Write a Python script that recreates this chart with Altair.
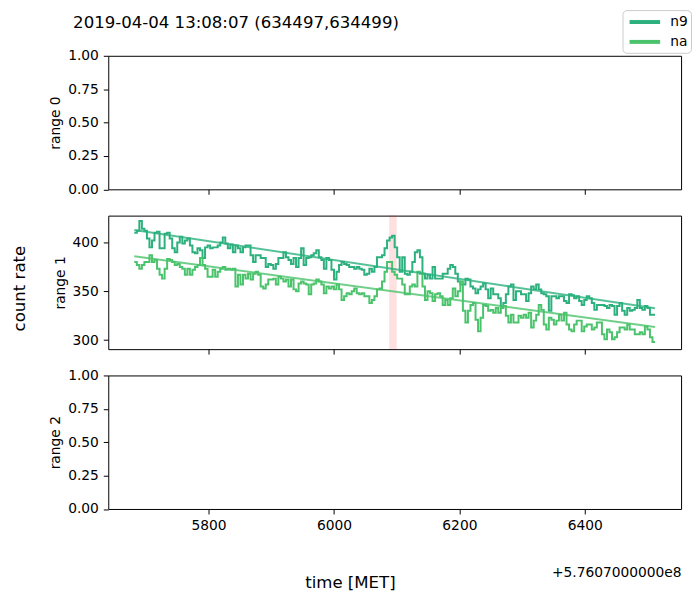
import altair as alt
import pandas as pd

TITLE = "2019-04-04 13:08:07 (634497,634499)"
OFFSET_TEXT = "+5.7607000000e8"
X_LABEL = "time [MET]"
Y_LABEL = "count rate"
PANEL_TITLES = ["range 0", "range 1", "range 2"]

T_START = 5681.5
T_END = 6512.0
X_DOMAIN = [5640.0, 6553.6]
X_TICKS = [5800, 6000, 6200, 6400]
Y_MID_DOMAIN = [290.8, 427.5]
Y_MID_TICKS = [300, 350, 400]
Y_EMPTY_DOMAIN = [0.0, 1.0]
Y_EMPTY_TICKS = [0.0, 0.25, 0.5, 0.75, 1.0]

DETECTORS = ["n9", "na"]
COLORS = ["#2cb17e", "#4bc36c"]

N9 = [410, 412, 422, 414, 412, 404, 395, 402, 410, 411, 394, 394, 409, 410, 404, 394, 390, 400, 406, 399,
      402, 404, 397, 390, 389, 394, 392, 384, 395, 397, 394, 395, 395, 397, 400, 405, 399, 394, 398, 390, 397,
      394, 390, 395, 397, 397, 387, 380, 387, 387, 384, 384, 375, 378, 377, 373, 378, 384, 384, 390, 385,
      382, 378, 384, 375, 384, 394, 377, 384, 385, 387, 389, 392, 385, 382, 373, 384, 382, 372, 362, 370, 377, 380,
      378, 377, 375, 375, 373, 375, 373, 372, 367, 368, 373, 370, 375, 385, 385, 387, 394, 402, 405, 407,
      395, 385, 370, 385, 368, 367, 370, 380, 390, 392, 385, 368, 363, 367, 363, 375, 363, 363, 363, 368, 368, 373, 377,
      375, 368, 360, 357, 357, 363, 362, 355, 353, 348, 352, 355, 358, 352, 343, 353, 347, 347, 343, 335,
      338, 347, 355, 357, 341, 350, 350, 347, 347, 340, 348, 355, 352, 357, 352, 348, 347, 345, 330, 345, 345, 343, 345,
      345, 340, 338, 347, 346, 343, 345, 340, 336, 341, 345, 343, 338, 331, 336, 336, 336, 335, 333, 336,
      335, 326, 335, 338, 330, 326, 333, 330, 331, 333, 341, 333, 331, 335, 333, 326, 326]

NA = [380, 377, 373, 377, 380, 380, 387, 380, 382, 373, 367, 363, 373, 383, 382, 380, 377, 378, 375, 373,
      367, 373, 367, 372, 375, 377, 384, 377, 373, 365, 365, 372, 365, 370, 373, 375, 372, 373, 372, 373, 355,
      367, 357, 367, 363, 368, 362, 368, 370, 367, 355, 353, 357, 362, 362, 363, 357, 365, 363, 360, 362,
      355, 362, 352, 350, 358, 360, 358, 357, 347, 357, 358, 362, 360, 357, 348, 355, 353, 355, 352, 357, 352, 341,
      345, 348, 347, 350, 353, 348, 347, 348, 345, 345, 338, 341, 345, 352, 353, 360, 370, 380, 380, 370,
      367, 363, 363, 357, 347, 347, 355, 357, 355, 370, 368, 355, 341, 350, 348, 340, 347, 348, 345, 336, 341, 336, 343,
      353, 345, 350, 360, 330, 318, 330, 336, 338, 321, 309, 323, 336, 335, 330, 331, 328, 333, 328, 333,
      335, 325, 318, 326, 318, 318, 325, 323, 326, 323, 328, 313, 320, 326, 336, 331, 316, 311, 323, 321, 316, 320, 326,
      320, 328, 316, 311, 309, 316, 320, 320, 309, 314, 316, 316, 311, 313, 318, 318, 306, 301, 311, 308,
      301, 303, 308, 313, 313, 311, 316, 311, 311, 306, 306, 308, 306, 314, 311, 303, 298]

FIT_N9 = [412.8, 332.6]
FIT_NA = [385.9, 313.4]
BAND = [6088.0, 6100.0]

FONT = "DejaVu Sans"
FS_TICK = 13.9
FS_BIG = 16.7

# ---- tables ----
n = len(N9)
w = (T_END - T_START) / n
rows = []
for det, vals in zip(DETECTORS, [N9, NA]):
    for i, v in enumerate(vals):
        rows.append({"t": T_START + i * w, "rate": v, "det": det})
    rows.append({"t": T_END, "rate": vals[-1], "det": det})
steps = pd.DataFrame(rows)

fits = pd.DataFrame(
    [{"t": T_START, "rate": FIT_N9[0], "det": "n9"}, {"t": T_END, "rate": FIT_N9[1], "det": "n9"},
     {"t": T_START, "rate": FIT_NA[0], "det": "na"}, {"t": T_END, "rate": FIT_NA[1], "det": "na"}]
)
band = pd.DataFrame({"x0": [BAND[0]], "x1": [BAND[1]]})
empty = pd.DataFrame({"t": X_DOMAIN, "v": Y_EMPTY_DOMAIN})

W, H = 577, 134.5
xscale = alt.Scale(domain=X_DOMAIN, nice=False, zero=False)
x_hidden = alt.Axis(values=X_TICKS, labels=False, title=None)
x_shown = alt.Axis(values=X_TICKS, format="d", title=OFFSET_TEXT, titleAnchor="end",
                   titleFontSize=FS_TICK, titlePadding=33)

color = alt.Color(
    "det:N",
    scale=alt.Scale(domain=DETECTORS, range=COLORS),
    legend=alt.Legend(title=None, orient="none", legendX=518, legendY=-46,
                      symbolType="M-2.2,0L2.2,0", symbolStrokeWidth=4, symbolSize=196,
                      symbolOpacity=1, symbolOffset=10.5,
                      labelFontSize=FS_TICK, labelFont=FONT, labelColor="black", labelOffset=16.5,
                      padding=3, rowPadding=3,
                      strokeColor="#cccccc", fillColor="white", cornerRadius=4),
)


def empty_panel(title, xaxis):
    return alt.Chart(empty).mark_point(opacity=0).encode(
        x=alt.X("t:Q", scale=xscale, axis=xaxis),
        y=alt.Y("v:Q", scale=alt.Scale(domain=Y_EMPTY_DOMAIN, nice=False),
                axis=alt.Axis(values=Y_EMPTY_TICKS, format=".2f", title=title)),
    ).properties(width=W, height=H)


top = empty_panel(PANEL_TITLES[0], x_hidden)
bottom = empty_panel(PANEL_TITLES[2], x_shown)

yscale = alt.Scale(domain=Y_MID_DOMAIN, nice=False, zero=False)
band_layer = alt.Chart(band).mark_rect(color="red", opacity=0.12).encode(
    x=alt.X("x0:Q", scale=xscale, axis=x_hidden), x2="x1:Q"
)
step_layer = alt.Chart(steps).mark_line(interpolate="step-after", strokeWidth=2).encode(
    x=alt.X("t:Q", scale=xscale, axis=x_hidden),
    y=alt.Y("rate:Q", scale=yscale, axis=alt.Axis(values=Y_MID_TICKS, format="d", title=PANEL_TITLES[1])),
    color=color,
)
fit_layer = alt.Chart(fits).mark_line(strokeWidth=2, opacity=0.8).encode(
    x=alt.X("t:Q", scale=xscale, axis=x_hidden),
    y=alt.Y("rate:Q", scale=yscale),
    color=color,
)
middle = alt.layer(band_layer, step_layer, fit_layer).properties(width=W, height=H)

panels = alt.vconcat(top, middle, bottom, spacing=26, bounds="flush",
                     title=alt.TitleParams(TITLE, anchor="start", fontSize=FS_BIG, dx=25, offset=17))
with_x = alt.vconcat(panels, title=alt.TitleParams(X_LABEL, orient="bottom", anchor="middle",
                                                   fontSize=FS_BIG, dx=-16, offset=-5))
chart = alt.vconcat(with_x, title=alt.TitleParams(Y_LABEL, orient="left", anchor="middle",
                                                  fontSize=FS_BIG, offset=20, dx=12),
                    padding={"left": 3, "top": -1, "right": 0, "bottom": 0}).configure_view(
    stroke="black", strokeWidth=1
).configure_axis(
    labelFont=FONT, labelFontSize=FS_TICK, labelColor="black", tickColor="black", tickSize=5,
    tickWidth=1, domain=False, grid=False, titleFont=FONT, titleFontSize=FS_TICK,
    titleFontWeight="normal", titleColor="black", labelPadding=5, titlePadding=5,
).configure_title(font=FONT, fontWeight="normal", color="black")

chart.save("out.html", embed_options={"renderer": "svg", "actions": False})
